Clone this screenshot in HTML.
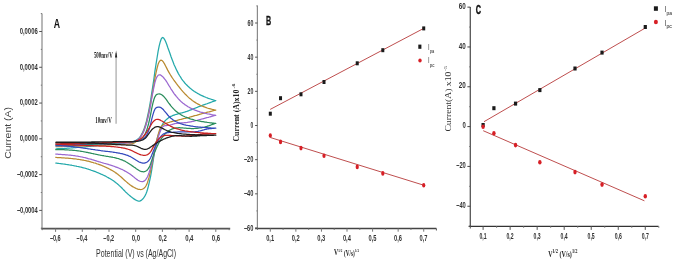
<!DOCTYPE html>
<html><head><meta charset="utf-8"><title>Figure</title>
<style>
html,body{margin:0;padding:0;background:#fff;}
body{width:685px;height:267px;overflow:hidden;font-family:"Liberation Sans",sans-serif;}
svg{display:block;} .t{filter:grayscale(1);}
</style></head><body>
<svg width="685" height="267" viewBox="0 0 685 267">
<rect width="685" height="267" fill="#fff"/>
<line x1="42.0" y1="13.5" x2="42.0" y2="228.6" stroke="#9a9a9a" stroke-width="1.4"/>
<line x1="41.2" y1="228.6" x2="230.2" y2="228.6" stroke="#555" stroke-width="1.6"/>
<line x1="39.2" y1="31.50" x2="42.0" y2="31.50" stroke="#555" stroke-width="1"/>
<line x1="39.2" y1="67.28" x2="42.0" y2="67.28" stroke="#555" stroke-width="1"/>
<line x1="39.2" y1="103.06" x2="42.0" y2="103.06" stroke="#555" stroke-width="1"/>
<line x1="39.2" y1="138.84" x2="42.0" y2="138.84" stroke="#555" stroke-width="1"/>
<line x1="39.2" y1="174.62" x2="42.0" y2="174.62" stroke="#555" stroke-width="1"/>
<line x1="39.2" y1="210.40" x2="42.0" y2="210.40" stroke="#555" stroke-width="1"/>
<line x1="40.8" y1="13.61" x2="42.0" y2="13.61" stroke="#777" stroke-width="1"/>
<line x1="40.8" y1="49.39" x2="42.0" y2="49.39" stroke="#777" stroke-width="1"/>
<line x1="40.8" y1="85.17" x2="42.0" y2="85.17" stroke="#777" stroke-width="1"/>
<line x1="40.8" y1="120.95" x2="42.0" y2="120.95" stroke="#777" stroke-width="1"/>
<line x1="40.8" y1="156.73" x2="42.0" y2="156.73" stroke="#777" stroke-width="1"/>
<line x1="40.8" y1="192.51" x2="42.0" y2="192.51" stroke="#777" stroke-width="1"/>
<line x1="40.8" y1="228.29" x2="42.0" y2="228.29" stroke="#777" stroke-width="1"/>
<line x1="55.60" y1="228.6" x2="55.60" y2="231.9" stroke="#777" stroke-width="1"/>
<line x1="82.30" y1="228.6" x2="82.30" y2="231.9" stroke="#777" stroke-width="1"/>
<line x1="109.00" y1="228.6" x2="109.00" y2="231.9" stroke="#777" stroke-width="1"/>
<line x1="135.70" y1="228.6" x2="135.70" y2="231.9" stroke="#777" stroke-width="1"/>
<line x1="162.40" y1="228.6" x2="162.40" y2="231.9" stroke="#777" stroke-width="1"/>
<line x1="189.10" y1="228.6" x2="189.10" y2="231.9" stroke="#777" stroke-width="1"/>
<line x1="215.80" y1="228.6" x2="215.80" y2="231.9" stroke="#777" stroke-width="1"/>
<line x1="42.25" y1="228.6" x2="42.25" y2="230.2" stroke="#777" stroke-width="1"/>
<line x1="68.95" y1="228.6" x2="68.95" y2="230.2" stroke="#777" stroke-width="1"/>
<line x1="95.65" y1="228.6" x2="95.65" y2="230.2" stroke="#777" stroke-width="1"/>
<line x1="122.35" y1="228.6" x2="122.35" y2="230.2" stroke="#777" stroke-width="1"/>
<line x1="149.05" y1="228.6" x2="149.05" y2="230.2" stroke="#777" stroke-width="1"/>
<line x1="175.75" y1="228.6" x2="175.75" y2="230.2" stroke="#777" stroke-width="1"/>
<line x1="202.45" y1="228.6" x2="202.45" y2="230.2" stroke="#777" stroke-width="1"/>
<line x1="229.15" y1="228.6" x2="229.15" y2="230.2" stroke="#777" stroke-width="1"/>
<line x1="116.1" y1="53" x2="116.1" y2="123.8" stroke="#b8b8b8" stroke-width="1.5"/>
<path d="M116.1 50.6 L117.2 57.4 L115.0 57.4 Z" fill="#222"/>
<g fill="none" stroke-width="1.25" stroke-linejoin="round"><path d="M55.6 148.8 L56.7 148.8 L57.7 148.7 L58.8 148.7 L59.9 148.6 L60.9 148.6 L62.0 148.5 L63.1 148.5 L64.1 148.4 L65.2 148.3 L66.3 148.3 L67.3 148.2 L68.4 148.1 L69.5 148.1 L70.6 148.0 L71.6 147.9 L72.7 147.8 L73.8 147.7 L74.8 147.7 L75.9 147.6 L77.0 147.5 L78.0 147.4 L79.1 147.3 L80.2 147.2 L81.2 147.2 L82.3 147.1 L83.4 147.0 L84.4 146.9 L85.5 146.8 L86.6 146.7 L87.6 146.6 L88.7 146.5 L89.8 146.4 L90.8 146.3 L91.9 146.2 L93.0 146.1 L94.0 146.0 L95.1 145.9 L96.2 145.8 L97.3 145.7 L98.3 145.6 L99.4 145.5 L100.5 145.4 L101.5 145.3 L102.6 145.2 L103.7 145.1 L104.7 145.0 L105.8 144.9 L106.9 144.7 L107.9 144.6 L109.0 144.5 L110.1 144.4 L111.1 144.3 L112.2 144.2 L113.3 144.1 L114.3 144.0 L115.4 143.8 L116.5 143.7 L117.5 143.6 L118.6 143.5 L119.7 143.4 L120.7 143.3 L121.8 143.1 L122.9 143.0 L124.0 142.9 L125.0 142.8 L126.1 142.7 L127.2 142.5 L128.2 142.4 L129.3 142.3 L130.4 142.2 L131.4 142.1 L132.5 141.9 L133.6 141.5 L134.6 141.1 L135.7 140.6 L136.8 139.9 L137.8 139.1 L138.9 138.1 L140.0 136.8 L141.0 135.3 L142.1 133.4 L143.2 131.1 L144.2 128.4 L145.3 125.1 L146.4 121.3 L147.4 116.8 L148.5 111.8 L149.6 106.1 L150.7 99.9 L151.7 93.2 L152.8 86.1 L153.9 78.8 L154.9 71.4 L156.0 64.3 L157.1 57.5 L158.1 51.3 L159.2 45.9 L160.3 41.7 L161.3 38.8 L162.4 37.5 L163.5 37.8 L164.5 39.3 L165.6 41.5 L166.7 44.2 L167.7 47.2 L168.8 50.2 L169.9 53.3 L170.9 56.3 L172.0 59.2 L173.1 62.0 L174.1 64.7 L175.2 67.1 L176.3 69.4 L177.4 71.6 L178.4 73.6 L179.5 75.5 L180.6 77.2 L181.6 78.8 L182.7 80.3 L183.8 81.7 L184.8 83.0 L185.9 84.2 L187.0 85.3 L188.0 86.3 L189.1 87.3 L190.2 88.3 L191.2 89.1 L192.3 89.9 L193.4 90.7 L194.4 91.5 L195.5 92.1 L196.6 92.8 L197.6 93.4 L198.7 94.0 L199.8 94.6 L200.8 95.1 L201.9 95.6 L203.0 96.1 L204.1 96.6 L205.1 97.0 L206.2 97.5 L207.3 97.9 L208.3 98.3 L209.4 98.7 L210.5 99.0 L211.5 99.4 L212.6 99.7 L213.7 100.0 L214.7 100.3 L215.8 100.6 L214.9 100.8 L214.1 101.1 L213.3 101.4 L212.5 101.7 L211.7 102.0 L210.9 102.3 L210.1 102.6 L209.3 102.9 L208.5 103.2 L207.6 103.5 L206.8 103.8 L206.0 104.0 L205.2 104.3 L204.4 104.6 L203.6 104.9 L202.8 105.2 L202.0 105.5 L201.2 105.8 L200.4 106.1 L199.6 106.4 L198.8 106.7 L198.0 107.0 L197.2 107.4 L196.4 107.7 L195.6 108.0 L194.8 108.3 L194.0 108.6 L193.2 108.9 L192.4 109.3 L191.6 109.6 L190.8 109.9 L190.0 110.2 L189.2 110.5 L188.4 110.8 L187.6 111.1 L186.8 111.4 L186.0 111.6 L185.2 111.9 L184.4 112.1 L183.6 112.4 L182.8 112.6 L182.0 112.8 L181.2 113.0 L180.4 113.2 L179.6 113.4 L178.8 113.6 L178.0 113.8 L177.2 114.1 L176.4 114.3 L175.6 114.5 L174.8 114.8 L174.0 115.1 L173.2 115.4 L172.4 115.7 L171.6 116.1 L170.8 116.4 L170.0 116.9 L169.2 117.4 L168.4 117.9 L167.6 118.5 L166.8 119.2 L166.0 119.9 L165.2 120.7 L164.3 121.6 L163.5 122.7 L162.7 124.0 L161.9 125.7 L161.1 127.8 L160.3 130.0 L159.5 132.0 L158.7 134.0 L157.9 136.3 L157.1 138.9 L156.3 142.2 L155.5 146.3 L154.7 150.9 L153.9 156.0 L153.1 161.3 L152.3 166.5 L151.5 171.4 L150.7 175.8 L149.9 179.6 L149.1 183.1 L148.3 186.5 L147.5 189.5 L146.7 192.0 L145.9 194.0 L145.1 195.6 L144.3 196.9 L143.5 198.1 L142.7 199.0 L141.9 199.8 L141.1 200.4 L140.3 200.9 L139.5 201.1 L138.7 201.2 L137.9 201.0 L137.1 200.7 L136.3 200.3 L135.5 199.9 L134.7 199.4 L133.9 198.9 L133.1 198.3 L132.3 197.7 L131.5 197.1 L130.7 196.5 L129.9 195.8 L129.1 195.1 L128.3 194.4 L127.5 193.7 L126.7 192.9 L125.9 192.2 L125.1 191.4 L124.3 190.5 L123.5 189.7 L122.7 188.9 L121.9 188.0 L121.1 187.2 L120.2 186.4 L119.4 185.7 L118.6 184.9 L117.8 184.2 L117.0 183.6 L116.2 182.9 L115.4 182.3 L114.6 181.7 L113.8 181.1 L113.0 180.5 L112.2 180.0 L111.4 179.5 L110.6 179.0 L109.8 178.5 L109.0 178.1 L108.2 177.6 L107.4 177.2 L106.6 176.7 L105.8 176.3 L105.0 175.9 L104.2 175.5 L103.4 175.2 L102.6 174.8 L101.8 174.4 L101.0 174.1 L100.2 173.7 L99.4 173.4 L98.6 173.0 L97.8 172.7 L97.0 172.4 L96.2 172.0 L95.4 171.7 L94.6 171.4 L93.8 171.1 L93.0 170.8 L92.2 170.5 L91.4 170.3 L90.6 170.0 L89.8 169.7 L89.0 169.5 L88.2 169.2 L87.4 169.0 L86.6 168.7 L85.8 168.5 L85.0 168.2 L84.2 168.0 L83.4 167.8 L82.6 167.6 L81.8 167.4 L81.0 167.2 L80.2 167.0 L79.4 166.8 L78.6 166.6 L77.8 166.5 L76.9 166.3 L76.1 166.1 L75.3 166.0 L74.5 165.8 L73.7 165.7 L72.9 165.5 L72.1 165.4 L71.3 165.2 L70.5 165.1 L69.7 165.0 L68.9 164.8 L68.1 164.7 L67.3 164.6 L66.5 164.5 L65.7 164.3 L64.9 164.2 L64.1 164.1 L63.3 164.0 L62.5 163.9 L61.7 163.8 L60.9 163.7 L60.1 163.6 L59.3 163.5 L58.5 163.4 L57.7 163.3 L56.9 163.2 L56.1 163.1 L55.3 163.0" stroke="#25a9ab"/>
<path d="M55.6 146.6 L56.7 146.6 L57.7 146.6 L58.8 146.6 L59.9 146.5 L60.9 146.5 L62.0 146.5 L63.1 146.5 L64.1 146.4 L65.2 146.4 L66.3 146.4 L67.3 146.4 L68.4 146.3 L69.5 146.3 L70.6 146.3 L71.6 146.2 L72.7 146.2 L73.8 146.2 L74.8 146.1 L75.9 146.1 L77.0 146.1 L78.0 146.0 L79.1 146.0 L80.2 146.0 L81.2 145.9 L82.3 145.9 L83.4 145.9 L84.4 145.8 L85.5 145.8 L86.6 145.7 L87.6 145.7 L88.7 145.7 L89.8 145.6 L90.8 145.6 L91.9 145.5 L93.0 145.5 L94.0 145.5 L95.1 145.4 L96.2 145.4 L97.3 145.3 L98.3 145.3 L99.4 145.3 L100.5 145.2 L101.5 145.2 L102.6 145.1 L103.7 145.1 L104.7 145.0 L105.8 145.0 L106.9 144.9 L107.9 144.9 L109.0 144.9 L110.1 144.8 L111.1 144.8 L112.2 144.7 L113.3 144.7 L114.3 144.6 L115.4 144.6 L116.5 144.5 L117.5 144.5 L118.6 144.4 L119.7 144.4 L120.7 144.3 L121.8 144.3 L122.9 144.2 L124.0 144.2 L125.0 144.1 L126.1 144.1 L127.2 144.0 L128.2 144.0 L129.3 143.9 L130.4 143.9 L131.4 143.8 L132.5 143.6 L133.6 143.1 L134.6 142.6 L135.7 141.9 L136.8 141.1 L137.8 140.2 L138.9 139.0 L140.0 137.7 L141.0 136.1 L142.1 134.3 L143.2 132.0 L144.2 129.4 L145.3 126.4 L146.4 122.8 L147.4 118.8 L148.5 114.1 L149.6 108.9 L150.7 103.3 L151.7 97.2 L152.8 90.8 L153.9 84.5 L154.9 78.3 L156.0 72.8 L157.1 68.0 L158.1 64.3 L159.2 61.8 L160.3 60.4 L161.3 60.2 L162.4 60.8 L163.5 62.2 L164.5 63.9 L165.6 66.0 L166.7 68.1 L167.7 70.1 L168.8 72.1 L169.9 74.0 L170.9 75.7 L172.0 77.4 L173.1 79.0 L174.1 80.5 L175.2 81.9 L176.3 83.4 L177.4 84.8 L178.4 86.2 L179.5 87.5 L180.6 88.8 L181.6 90.1 L182.7 91.4 L183.8 92.6 L184.8 93.7 L185.9 94.8 L187.0 95.9 L188.0 96.9 L189.1 97.9 L190.2 98.8 L191.2 99.6 L192.3 100.5 L193.4 101.2 L194.4 101.9 L195.5 102.6 L196.6 103.3 L197.6 103.9 L198.7 104.4 L199.8 105.0 L200.8 105.5 L201.9 106.0 L203.0 106.4 L204.1 106.8 L205.1 107.2 L206.2 107.6 L207.3 108.0 L208.3 108.3 L209.4 108.6 L210.5 108.9 L211.5 109.2 L212.6 109.5 L213.7 109.7 L214.7 110.0 L215.8 110.2 L214.9 110.3 L214.1 110.5 L213.3 110.7 L212.5 110.9 L211.7 111.2 L210.9 111.4 L210.1 111.6 L209.3 111.8 L208.5 112.0 L207.6 112.2 L206.8 112.4 L206.0 112.7 L205.2 112.9 L204.4 113.1 L203.6 113.3 L202.8 113.5 L202.0 113.7 L201.2 114.0 L200.4 114.2 L199.6 114.4 L198.8 114.6 L198.0 114.8 L197.2 115.1 L196.4 115.3 L195.6 115.5 L194.8 115.7 L194.0 115.9 L193.2 116.2 L192.4 116.4 L191.6 116.6 L190.8 116.8 L190.0 117.0 L189.2 117.3 L188.4 117.5 L187.6 117.7 L186.8 117.9 L186.0 118.1 L185.2 118.3 L184.4 118.5 L183.6 118.7 L182.8 118.9 L182.0 119.1 L181.2 119.3 L180.4 119.5 L179.6 119.7 L178.8 119.9 L178.0 120.1 L177.2 120.3 L176.4 120.5 L175.6 120.6 L174.8 120.8 L174.0 121.0 L173.2 121.2 L172.4 121.4 L171.6 121.6 L170.8 121.8 L170.0 122.0 L169.2 122.3 L168.4 122.5 L167.6 122.8 L166.8 123.1 L166.0 123.4 L165.2 123.8 L164.3 124.2 L163.5 124.6 L162.7 125.2 L161.9 125.8 L161.1 126.8 L160.3 128.2 L159.5 130.1 L158.7 132.6 L157.9 135.6 L157.1 138.9 L156.3 142.5 L155.5 146.4 L154.7 150.4 L153.9 154.5 L153.1 158.7 L152.3 162.8 L151.5 166.7 L150.7 170.5 L149.9 174.0 L149.1 177.2 L148.3 179.9 L147.5 182.4 L146.7 184.4 L145.9 186.0 L145.1 187.1 L144.3 188.0 L143.5 188.6 L142.7 189.0 L141.9 189.3 L141.1 189.5 L140.3 189.5 L139.5 189.4 L138.7 189.3 L137.9 189.1 L137.1 188.8 L136.3 188.5 L135.5 188.1 L134.7 187.7 L133.9 187.3 L133.1 186.9 L132.3 186.4 L131.5 185.9 L130.7 185.3 L129.9 184.8 L129.1 184.1 L128.3 183.5 L127.5 182.8 L126.7 182.1 L125.9 181.4 L125.1 180.7 L124.3 180.0 L123.5 179.2 L122.7 178.5 L121.9 177.7 L121.1 177.0 L120.2 176.3 L119.4 175.6 L118.6 175.0 L117.8 174.3 L117.0 173.7 L116.2 173.1 L115.4 172.6 L114.6 172.0 L113.8 171.5 L113.0 171.0 L112.2 170.5 L111.4 170.1 L110.6 169.6 L109.8 169.2 L109.0 168.8 L108.2 168.4 L107.4 168.0 L106.6 167.6 L105.8 167.2 L105.0 166.9 L104.2 166.5 L103.4 166.2 L102.6 165.8 L101.8 165.5 L101.0 165.2 L100.2 164.9 L99.4 164.6 L98.6 164.3 L97.8 164.0 L97.0 163.8 L96.2 163.5 L95.4 163.2 L94.6 163.0 L93.8 162.8 L93.0 162.5 L92.2 162.3 L91.4 162.1 L90.6 161.8 L89.8 161.6 L89.0 161.4 L88.2 161.2 L87.4 161.1 L86.6 160.9 L85.8 160.7 L85.0 160.5 L84.2 160.4 L83.4 160.2 L82.6 160.1 L81.8 159.9 L81.0 159.8 L80.2 159.6 L79.4 159.5 L78.6 159.4 L77.8 159.3 L76.9 159.2 L76.1 159.0 L75.3 158.9 L74.5 158.8 L73.7 158.8 L72.9 158.7 L72.1 158.6 L71.3 158.5 L70.5 158.4 L69.7 158.3 L68.9 158.3 L68.1 158.2 L67.3 158.1 L66.5 158.1 L65.7 158.0 L64.9 158.0 L64.1 157.9 L63.3 157.9 L62.5 157.8 L61.7 157.8 L60.9 157.7 L60.1 157.7 L59.3 157.6 L58.5 157.6 L57.7 157.5 L56.9 157.5 L56.1 157.4 L55.3 157.4" stroke="#b98a30"/>
<path d="M55.6 146.0 L56.7 146.0 L57.7 146.0 L58.8 145.9 L59.9 145.9 L60.9 145.9 L62.0 145.9 L63.1 145.8 L64.1 145.8 L65.2 145.8 L66.3 145.7 L67.3 145.7 L68.4 145.7 L69.5 145.6 L70.6 145.6 L71.6 145.6 L72.7 145.5 L73.8 145.5 L74.8 145.4 L75.9 145.4 L77.0 145.4 L78.0 145.3 L79.1 145.3 L80.2 145.2 L81.2 145.2 L82.3 145.1 L83.4 145.1 L84.4 145.1 L85.5 145.0 L86.6 145.0 L87.6 144.9 L88.7 144.9 L89.8 144.8 L90.8 144.8 L91.9 144.7 L93.0 144.7 L94.0 144.6 L95.1 144.6 L96.2 144.5 L97.3 144.5 L98.3 144.4 L99.4 144.4 L100.5 144.3 L101.5 144.3 L102.6 144.2 L103.7 144.2 L104.7 144.1 L105.8 144.1 L106.9 144.0 L107.9 144.0 L109.0 143.9 L110.1 143.9 L111.1 143.8 L112.2 143.7 L113.3 143.7 L114.3 143.6 L115.4 143.6 L116.5 143.5 L117.5 143.5 L118.6 143.4 L119.7 143.3 L120.7 143.3 L121.8 143.2 L122.9 143.2 L124.0 143.1 L125.0 143.1 L126.1 143.0 L127.2 142.9 L128.2 142.9 L129.3 142.8 L130.4 142.8 L131.4 142.7 L132.5 142.5 L133.6 142.2 L134.6 141.7 L135.7 141.2 L136.8 140.6 L137.8 139.8 L138.9 138.9 L140.0 137.7 L141.0 136.3 L142.1 134.6 L143.2 132.6 L144.2 130.2 L145.3 127.3 L146.4 123.8 L147.4 119.9 L148.5 115.3 L149.6 110.1 L150.7 104.4 L151.7 98.5 L152.8 92.6 L153.9 87.1 L154.9 82.5 L156.0 78.9 L157.1 76.6 L158.1 75.3 L159.2 74.8 L160.3 74.9 L161.3 75.5 L162.4 76.4 L163.5 77.5 L164.5 78.8 L165.6 80.2 L166.7 81.8 L167.7 83.5 L168.8 85.3 L169.9 87.0 L170.9 88.8 L172.0 90.4 L173.1 92.1 L174.1 93.6 L175.2 95.0 L176.3 96.4 L177.4 97.7 L178.4 98.9 L179.5 100.0 L180.6 101.1 L181.6 102.1 L182.7 103.0 L183.8 103.8 L184.8 104.6 L185.9 105.3 L187.0 106.0 L188.0 106.7 L189.1 107.3 L190.2 107.9 L191.2 108.4 L192.3 108.9 L193.4 109.4 L194.4 109.9 L195.5 110.3 L196.6 110.7 L197.6 111.1 L198.7 111.4 L199.8 111.8 L200.8 112.1 L201.9 112.4 L203.0 112.7 L204.1 113.0 L205.1 113.3 L206.2 113.5 L207.3 113.8 L208.3 114.0 L209.4 114.2 L210.5 114.4 L211.5 114.7 L212.6 114.8 L213.7 115.0 L214.7 115.2 L215.8 115.4 L214.9 115.5 L214.1 115.7 L213.3 115.9 L212.5 116.2 L211.7 116.4 L210.9 116.6 L210.1 116.8 L209.3 117.0 L208.5 117.3 L207.6 117.5 L206.8 117.7 L206.0 117.9 L205.2 118.1 L204.4 118.4 L203.6 118.6 L202.8 118.8 L202.0 119.0 L201.2 119.2 L200.4 119.5 L199.6 119.7 L198.8 119.9 L198.0 120.1 L197.2 120.3 L196.4 120.5 L195.6 120.7 L194.8 120.9 L194.0 121.1 L193.2 121.3 L192.4 121.4 L191.6 121.6 L190.8 121.8 L190.0 121.9 L189.2 122.1 L188.4 122.2 L187.6 122.3 L186.8 122.5 L186.0 122.6 L185.2 122.6 L184.4 122.7 L183.6 122.8 L182.8 122.8 L182.0 122.9 L181.2 122.9 L180.4 123.0 L179.6 123.0 L178.8 123.1 L178.0 123.2 L177.2 123.3 L176.4 123.4 L175.6 123.5 L174.8 123.7 L174.0 123.9 L173.2 124.1 L172.4 124.3 L171.6 124.6 L170.8 124.8 L170.0 125.0 L169.2 125.2 L168.4 125.3 L167.6 125.4 L166.8 125.5 L166.0 125.5 L165.2 125.6 L164.3 125.8 L163.5 126.2 L162.7 126.9 L161.9 127.9 L161.1 129.4 L160.3 131.2 L159.5 133.4 L158.7 135.9 L157.9 138.6 L157.1 141.6 L156.3 144.7 L155.5 147.9 L154.7 151.2 L153.9 154.5 L153.1 157.8 L152.3 161.1 L151.5 164.2 L150.7 167.2 L149.9 170.0 L149.1 172.5 L148.3 174.8 L147.5 176.7 L146.7 178.2 L145.9 179.4 L145.1 180.3 L144.3 180.9 L143.5 181.4 L142.7 181.6 L141.9 181.6 L141.1 181.5 L140.3 181.3 L139.5 181.0 L138.7 180.6 L137.9 180.2 L137.1 179.6 L136.3 179.1 L135.5 178.4 L134.7 177.8 L133.9 177.1 L133.1 176.5 L132.3 175.8 L131.5 175.2 L130.7 174.6 L129.9 174.0 L129.1 173.5 L128.3 173.0 L127.5 172.5 L126.7 172.0 L125.9 171.5 L125.1 171.1 L124.3 170.6 L123.5 170.2 L122.7 169.8 L121.9 169.4 L121.1 169.1 L120.2 168.7 L119.4 168.4 L118.6 168.0 L117.8 167.7 L117.0 167.4 L116.2 167.1 L115.4 166.8 L114.6 166.5 L113.8 166.2 L113.0 166.0 L112.2 165.7 L111.4 165.4 L110.6 165.2 L109.8 164.9 L109.0 164.7 L108.2 164.4 L107.4 164.2 L106.6 164.0 L105.8 163.7 L105.0 163.5 L104.2 163.3 L103.4 163.0 L102.6 162.8 L101.8 162.5 L101.0 162.3 L100.2 162.0 L99.4 161.8 L98.6 161.6 L97.8 161.3 L97.0 161.1 L96.2 160.8 L95.4 160.6 L94.6 160.4 L93.8 160.1 L93.0 159.9 L92.2 159.7 L91.4 159.4 L90.6 159.2 L89.8 159.0 L89.0 158.8 L88.2 158.6 L87.4 158.3 L86.6 158.1 L85.8 157.9 L85.0 157.7 L84.2 157.5 L83.4 157.4 L82.6 157.2 L81.8 157.0 L81.0 156.8 L80.2 156.7 L79.4 156.5 L78.6 156.4 L77.8 156.2 L76.9 156.1 L76.1 156.0 L75.3 155.8 L74.5 155.7 L73.7 155.6 L72.9 155.5 L72.1 155.4 L71.3 155.3 L70.5 155.2 L69.7 155.1 L68.9 155.1 L68.1 155.0 L67.3 154.9 L66.5 154.8 L65.7 154.8 L64.9 154.7 L64.1 154.6 L63.3 154.6 L62.5 154.5 L61.7 154.5 L60.9 154.4 L60.1 154.4 L59.3 154.3 L58.5 154.3 L57.7 154.2 L56.9 154.2 L56.1 154.1 L55.3 154.1" stroke="#9b68d0"/>
<path d="M55.6 145.6 L56.7 145.6 L57.7 145.6 L58.8 145.5 L59.9 145.5 L60.9 145.5 L62.0 145.5 L63.1 145.4 L64.1 145.4 L65.2 145.4 L66.3 145.3 L67.3 145.3 L68.4 145.3 L69.5 145.2 L70.6 145.2 L71.6 145.1 L72.7 145.1 L73.8 145.1 L74.8 145.0 L75.9 145.0 L77.0 144.9 L78.0 144.9 L79.1 144.8 L80.2 144.8 L81.2 144.8 L82.3 144.7 L83.4 144.7 L84.4 144.6 L85.5 144.6 L86.6 144.5 L87.6 144.5 L88.7 144.4 L89.8 144.4 L90.8 144.3 L91.9 144.3 L93.0 144.2 L94.0 144.2 L95.1 144.1 L96.2 144.1 L97.3 144.0 L98.3 144.0 L99.4 143.9 L100.5 143.8 L101.5 143.8 L102.6 143.7 L103.7 143.7 L104.7 143.6 L105.8 143.6 L106.9 143.5 L107.9 143.5 L109.0 143.4 L110.1 143.3 L111.1 143.3 L112.2 143.2 L113.3 143.2 L114.3 143.1 L115.4 143.0 L116.5 143.0 L117.5 142.9 L118.6 142.9 L119.7 142.8 L120.7 142.7 L121.8 142.7 L122.9 142.6 L124.0 142.6 L125.0 142.5 L126.1 142.4 L127.2 142.4 L128.2 142.3 L129.3 142.3 L130.4 142.2 L131.4 142.1 L132.5 142.0 L133.6 141.9 L134.6 141.7 L135.7 141.5 L136.8 141.2 L137.8 140.9 L138.9 140.4 L140.0 139.9 L141.0 139.2 L142.1 138.3 L143.2 137.1 L144.2 135.6 L145.3 133.6 L146.4 131.1 L147.4 127.9 L148.5 124.0 L149.6 119.3 L150.7 114.0 L151.7 108.6 L152.8 103.6 L153.9 99.5 L154.9 96.8 L156.0 95.1 L157.1 94.3 L158.1 94.0 L159.2 93.9 L160.3 94.1 L161.3 94.5 L162.4 95.2 L163.5 96.2 L164.5 97.4 L165.6 98.7 L166.7 100.1 L167.7 101.6 L168.8 103.1 L169.9 104.5 L170.9 105.8 L172.0 107.1 L173.1 108.3 L174.1 109.4 L175.2 110.5 L176.3 111.4 L177.4 112.3 L178.4 113.1 L179.5 113.8 L180.6 114.5 L181.6 115.1 L182.7 115.7 L183.8 116.2 L184.8 116.7 L185.9 117.2 L187.0 117.6 L188.0 118.0 L189.1 118.4 L190.2 118.8 L191.2 119.1 L192.3 119.4 L193.4 119.7 L194.4 120.0 L195.5 120.3 L196.6 120.5 L197.6 120.7 L198.7 121.0 L199.8 121.2 L200.8 121.4 L201.9 121.6 L203.0 121.7 L204.1 121.9 L205.1 122.1 L206.2 122.2 L207.3 122.4 L208.3 122.5 L209.4 122.7 L210.5 122.8 L211.5 122.9 L212.6 123.1 L213.7 123.2 L214.7 123.3 L215.8 123.4 L214.9 123.5 L214.1 123.8 L213.3 124.1 L212.5 124.4 L211.7 124.7 L210.9 125.0 L210.1 125.3 L209.3 125.6 L208.5 125.8 L207.6 126.1 L206.8 126.4 L206.0 126.6 L205.2 126.8 L204.4 127.1 L203.6 127.3 L202.8 127.4 L202.0 127.6 L201.2 127.8 L200.4 127.9 L199.6 128.0 L198.8 128.1 L198.0 128.2 L197.2 128.3 L196.4 128.3 L195.6 128.4 L194.8 128.4 L194.0 128.5 L193.2 128.5 L192.4 128.5 L191.6 128.5 L190.8 128.5 L190.0 128.4 L189.2 128.4 L188.4 128.4 L187.6 128.3 L186.8 128.3 L186.0 128.2 L185.2 128.1 L184.4 128.0 L183.6 128.0 L182.8 127.9 L182.0 127.9 L181.2 127.8 L180.4 127.8 L179.6 127.7 L178.8 127.7 L178.0 127.8 L177.2 127.8 L176.4 127.9 L175.6 128.0 L174.8 128.2 L174.0 128.4 L173.2 128.6 L172.4 128.9 L171.6 129.2 L170.8 129.6 L170.0 130.0 L169.2 130.5 L168.4 131.0 L167.6 131.7 L166.8 132.3 L166.0 133.1 L165.2 133.9 L164.3 134.8 L163.5 135.7 L162.7 136.8 L161.9 137.9 L161.1 139.1 L160.3 140.4 L159.5 141.8 L158.7 143.3 L157.9 144.9 L157.1 146.5 L156.3 148.3 L155.5 150.2 L154.7 152.1 L153.9 154.2 L153.1 156.4 L152.3 158.7 L151.5 161.1 L150.7 163.5 L149.9 165.7 L149.1 167.4 L148.3 168.7 L147.5 169.7 L146.7 170.5 L145.9 171.0 L145.1 171.4 L144.3 171.7 L143.5 171.8 L142.7 171.7 L141.9 171.6 L141.1 171.4 L140.3 171.1 L139.5 170.7 L138.7 170.2 L137.9 169.7 L137.1 169.2 L136.3 168.7 L135.5 168.1 L134.7 167.5 L133.9 167.0 L133.1 166.4 L132.3 165.9 L131.5 165.3 L130.7 164.7 L129.9 164.2 L129.1 163.7 L128.3 163.2 L127.5 162.7 L126.7 162.2 L125.9 161.8 L125.1 161.3 L124.3 160.9 L123.5 160.6 L122.7 160.2 L121.9 159.9 L121.1 159.6 L120.2 159.3 L119.4 159.0 L118.6 158.7 L117.8 158.5 L117.0 158.3 L116.2 158.1 L115.4 157.9 L114.6 157.7 L113.8 157.5 L113.0 157.4 L112.2 157.2 L111.4 157.1 L110.6 156.9 L109.8 156.8 L109.0 156.7 L108.2 156.5 L107.4 156.4 L106.6 156.3 L105.8 156.2 L105.0 156.0 L104.2 155.9 L103.4 155.7 L102.6 155.6 L101.8 155.5 L101.0 155.3 L100.2 155.2 L99.4 155.0 L98.6 154.8 L97.8 154.7 L97.0 154.5 L96.2 154.3 L95.4 154.2 L94.6 154.0 L93.8 153.8 L93.0 153.6 L92.2 153.5 L91.4 153.3 L90.6 153.1 L89.8 152.9 L89.0 152.8 L88.2 152.6 L87.4 152.4 L86.6 152.3 L85.8 152.1 L85.0 152.0 L84.2 151.8 L83.4 151.7 L82.6 151.5 L81.8 151.4 L81.0 151.3 L80.2 151.1 L79.4 151.0 L78.6 150.9 L77.8 150.8 L76.9 150.7 L76.1 150.6 L75.3 150.5 L74.5 150.4 L73.7 150.3 L72.9 150.3 L72.1 150.2 L71.3 150.1 L70.5 150.1 L69.7 150.0 L68.9 150.0 L68.1 149.9 L67.3 149.9 L66.5 149.8 L65.7 149.8 L64.9 149.8 L64.1 149.7 L63.3 149.7 L62.5 149.7 L61.7 149.7 L60.9 149.6 L60.1 149.6 L59.3 149.6 L58.5 149.6 L57.7 149.6 L56.9 149.5 L56.1 149.5 L55.3 149.5" stroke="#2a8d5c"/>
<path d="M55.6 144.8 L56.7 144.8 L57.7 144.8 L58.8 144.7 L59.9 144.7 L60.9 144.7 L62.0 144.7 L63.1 144.6 L64.1 144.6 L65.2 144.6 L66.3 144.5 L67.3 144.5 L68.4 144.5 L69.5 144.4 L70.6 144.4 L71.6 144.4 L72.7 144.3 L73.8 144.3 L74.8 144.3 L75.9 144.2 L77.0 144.2 L78.0 144.1 L79.1 144.1 L80.2 144.0 L81.2 144.0 L82.3 144.0 L83.4 143.9 L84.4 143.9 L85.5 143.8 L86.6 143.8 L87.6 143.7 L88.7 143.7 L89.8 143.6 L90.8 143.6 L91.9 143.5 L93.0 143.5 L94.0 143.5 L95.1 143.4 L96.2 143.4 L97.3 143.3 L98.3 143.3 L99.4 143.2 L100.5 143.2 L101.5 143.1 L102.6 143.0 L103.7 143.0 L104.7 142.9 L105.8 142.9 L106.9 142.8 L107.9 142.8 L109.0 142.7 L110.1 142.7 L111.1 142.6 L112.2 142.6 L113.3 142.5 L114.3 142.5 L115.4 142.4 L116.5 142.3 L117.5 142.3 L118.6 142.2 L119.7 142.2 L120.7 142.1 L121.8 142.1 L122.9 142.0 L124.0 141.9 L125.0 141.9 L126.1 141.8 L127.2 141.8 L128.2 141.7 L129.3 141.7 L130.4 141.6 L131.4 141.5 L132.5 141.5 L133.6 141.4 L134.6 141.3 L135.7 141.2 L136.8 141.1 L137.8 140.9 L138.9 140.7 L140.0 140.4 L141.0 140.0 L142.1 139.5 L143.2 138.9 L144.2 138.1 L145.3 136.9 L146.4 135.5 L147.4 133.5 L148.5 131.0 L149.6 127.7 L150.7 123.8 L151.7 119.4 L152.8 115.1 L153.9 111.6 L154.9 109.2 L156.0 107.9 L157.1 107.3 L158.1 107.1 L159.2 107.1 L160.3 107.3 L161.3 107.9 L162.4 108.7 L163.5 109.8 L164.5 111.1 L165.6 112.4 L166.7 113.7 L167.7 115.0 L168.8 116.2 L169.9 117.3 L170.9 118.3 L172.0 119.1 L173.1 119.9 L174.1 120.6 L175.2 121.2 L176.3 121.8 L177.4 122.3 L178.4 122.8 L179.5 123.2 L180.6 123.6 L181.6 123.9 L182.7 124.3 L183.8 124.6 L184.8 124.8 L185.9 125.1 L187.0 125.3 L188.0 125.5 L189.1 125.7 L190.2 125.9 L191.2 126.1 L192.3 126.2 L193.4 126.4 L194.4 126.5 L195.5 126.7 L196.6 126.8 L197.6 126.9 L198.7 127.0 L199.8 127.1 L200.8 127.2 L201.9 127.3 L203.0 127.4 L204.1 127.5 L205.1 127.6 L206.2 127.7 L207.3 127.7 L208.3 127.8 L209.4 127.9 L210.5 127.9 L211.5 128.0 L212.6 128.0 L213.7 128.1 L214.7 128.1 L215.8 128.2 L214.9 128.2 L214.1 128.3 L213.3 128.3 L212.5 128.4 L211.7 128.5 L210.9 128.5 L210.1 128.6 L209.3 128.7 L208.5 128.8 L207.6 129.0 L206.8 129.1 L206.0 129.3 L205.2 129.5 L204.4 129.7 L203.6 130.0 L202.8 130.2 L202.0 130.4 L201.2 130.6 L200.4 130.8 L199.6 131.0 L198.8 131.2 L198.0 131.4 L197.2 131.5 L196.4 131.6 L195.6 131.7 L194.8 131.8 L194.0 131.8 L193.2 131.9 L192.4 131.9 L191.6 131.9 L190.8 131.9 L190.0 131.9 L189.2 131.9 L188.4 131.9 L187.6 131.9 L186.8 131.9 L186.0 131.9 L185.2 131.9 L184.4 131.9 L183.6 131.9 L182.8 131.9 L182.0 131.9 L181.2 131.9 L180.4 131.9 L179.6 131.9 L178.8 131.9 L178.0 131.9 L177.2 132.0 L176.4 132.0 L175.6 132.0 L174.8 132.1 L174.0 132.1 L173.2 132.2 L172.4 132.3 L171.6 132.3 L170.8 132.4 L170.0 132.4 L169.2 132.5 L168.4 132.6 L167.6 132.7 L166.8 132.8 L166.0 132.9 L165.2 133.2 L164.3 133.5 L163.5 134.0 L162.7 134.6 L161.9 135.3 L161.1 136.2 L160.3 137.3 L159.5 138.5 L158.7 139.8 L157.9 141.2 L157.1 142.7 L156.3 144.4 L155.5 146.1 L154.7 147.9 L153.9 149.8 L153.1 151.8 L152.3 153.8 L151.5 155.8 L150.7 157.5 L149.9 159.0 L149.1 160.1 L148.3 161.0 L147.5 161.7 L146.7 162.3 L145.9 162.7 L145.1 162.9 L144.3 163.1 L143.5 163.1 L142.7 163.1 L141.9 162.9 L141.1 162.7 L140.3 162.4 L139.5 162.1 L138.7 161.7 L137.9 161.2 L137.1 160.7 L136.3 160.3 L135.5 159.7 L134.7 159.2 L133.9 158.7 L133.1 158.2 L132.3 157.7 L131.5 157.3 L130.7 156.8 L129.9 156.4 L129.1 156.1 L128.3 155.7 L127.5 155.4 L126.7 155.1 L125.9 154.9 L125.1 154.6 L124.3 154.4 L123.5 154.2 L122.7 153.9 L121.9 153.7 L121.1 153.6 L120.2 153.4 L119.4 153.2 L118.6 153.1 L117.8 152.9 L117.0 152.8 L116.2 152.6 L115.4 152.5 L114.6 152.4 L113.8 152.3 L113.0 152.1 L112.2 152.0 L111.4 151.9 L110.6 151.8 L109.8 151.7 L109.0 151.6 L108.2 151.5 L107.4 151.4 L106.6 151.3 L105.8 151.3 L105.0 151.2 L104.2 151.1 L103.4 151.0 L102.6 150.9 L101.8 150.8 L101.0 150.7 L100.2 150.5 L99.4 150.4 L98.6 150.3 L97.8 150.2 L97.0 150.1 L96.2 150.0 L95.4 149.9 L94.6 149.7 L93.8 149.6 L93.0 149.5 L92.2 149.4 L91.4 149.3 L90.6 149.1 L89.8 149.0 L89.0 148.9 L88.2 148.8 L87.4 148.7 L86.6 148.5 L85.8 148.4 L85.0 148.3 L84.2 148.2 L83.4 148.1 L82.6 147.9 L81.8 147.8 L81.0 147.7 L80.2 147.6 L79.4 147.5 L78.6 147.4 L77.8 147.3 L76.9 147.2 L76.1 147.1 L75.3 147.0 L74.5 146.9 L73.7 146.8 L72.9 146.7 L72.1 146.6 L71.3 146.5 L70.5 146.5 L69.7 146.4 L68.9 146.3 L68.1 146.2 L67.3 146.1 L66.5 146.0 L65.7 146.0 L64.9 145.9 L64.1 145.8 L63.3 145.7 L62.5 145.7 L61.7 145.6 L60.9 145.5 L60.1 145.4 L59.3 145.4 L58.5 145.3 L57.7 145.2 L56.9 145.1 L56.1 145.1 L55.3 145.0" stroke="#3449bd"/>
<path d="M55.6 143.8 L56.7 143.8 L57.7 143.8 L58.8 143.8 L59.9 143.8 L60.9 143.7 L62.0 143.7 L63.1 143.7 L64.1 143.7 L65.2 143.7 L66.3 143.6 L67.3 143.6 L68.4 143.6 L69.5 143.6 L70.6 143.6 L71.6 143.5 L72.7 143.5 L73.8 143.5 L74.8 143.5 L75.9 143.4 L77.0 143.4 L78.0 143.4 L79.1 143.4 L80.2 143.3 L81.2 143.3 L82.3 143.3 L83.4 143.3 L84.4 143.2 L85.5 143.2 L86.6 143.2 L87.6 143.2 L88.7 143.1 L89.8 143.1 L90.8 143.1 L91.9 143.0 L93.0 143.0 L94.0 143.0 L95.1 142.9 L96.2 142.9 L97.3 142.9 L98.3 142.9 L99.4 142.8 L100.5 142.8 L101.5 142.8 L102.6 142.7 L103.7 142.7 L104.7 142.7 L105.8 142.6 L106.9 142.6 L107.9 142.6 L109.0 142.5 L110.1 142.5 L111.1 142.5 L112.2 142.4 L113.3 142.4 L114.3 142.4 L115.4 142.3 L116.5 142.3 L117.5 142.3 L118.6 142.2 L119.7 142.2 L120.7 142.2 L121.8 142.1 L122.9 142.1 L124.0 142.1 L125.0 142.0 L126.1 142.0 L127.2 142.0 L128.2 141.9 L129.3 141.9 L130.4 141.8 L131.4 141.8 L132.5 141.7 L133.6 141.5 L134.6 141.3 L135.7 141.0 L136.8 140.7 L137.8 140.3 L138.9 139.8 L140.0 139.2 L141.0 138.5 L142.1 137.7 L143.2 136.7 L144.2 135.5 L145.3 134.2 L146.4 132.6 L147.4 131.0 L148.5 129.2 L149.6 127.3 L150.7 125.5 L151.7 123.7 L152.8 122.2 L153.9 121.0 L154.9 120.1 L156.0 119.5 L157.1 119.3 L158.1 119.4 L159.2 119.7 L160.3 120.1 L161.3 120.7 L162.4 121.3 L163.5 122.0 L164.5 122.7 L165.6 123.3 L166.7 124.0 L167.7 124.6 L168.8 125.3 L169.9 125.8 L170.9 126.4 L172.0 126.9 L173.1 127.4 L174.1 127.8 L175.2 128.2 L176.3 128.6 L177.4 128.9 L178.4 129.2 L179.5 129.5 L180.6 129.8 L181.6 130.1 L182.7 130.3 L183.8 130.5 L184.8 130.8 L185.9 131.0 L187.0 131.1 L188.0 131.3 L189.1 131.5 L190.2 131.6 L191.2 131.8 L192.3 131.9 L193.4 132.0 L194.4 132.2 L195.5 132.3 L196.6 132.4 L197.6 132.5 L198.7 132.6 L199.8 132.7 L200.8 132.8 L201.9 132.9 L203.0 132.9 L204.1 133.0 L205.1 133.1 L206.2 133.2 L207.3 133.2 L208.3 133.3 L209.4 133.4 L210.5 133.4 L211.5 133.5 L212.6 133.6 L213.7 133.6 L214.7 133.7 L215.8 133.7 L214.9 133.7 L214.1 133.8 L213.3 133.8 L212.5 133.8 L211.7 133.9 L210.9 133.9 L210.1 133.9 L209.3 134.0 L208.5 134.0 L207.6 134.0 L206.8 134.1 L206.0 134.1 L205.2 134.1 L204.4 134.1 L203.6 134.2 L202.8 134.2 L202.0 134.3 L201.2 134.4 L200.4 134.4 L199.6 134.5 L198.8 134.6 L198.0 134.7 L197.2 134.8 L196.4 135.0 L195.6 135.1 L194.8 135.2 L194.0 135.3 L193.2 135.4 L192.4 135.5 L191.6 135.6 L190.8 135.7 L190.0 135.7 L189.2 135.8 L188.4 135.9 L187.6 135.9 L186.8 135.9 L186.0 136.0 L185.2 136.0 L184.4 136.0 L183.6 136.0 L182.8 136.0 L182.0 136.0 L181.2 136.0 L180.4 135.9 L179.6 135.9 L178.8 135.9 L178.0 135.9 L177.2 135.8 L176.4 135.8 L175.6 135.7 L174.8 135.7 L174.0 135.6 L173.2 135.6 L172.4 135.5 L171.6 135.5 L170.8 135.4 L170.0 135.4 L169.2 135.3 L168.4 135.3 L167.6 135.3 L166.8 135.3 L166.0 135.3 L165.2 135.4 L164.3 135.6 L163.5 135.8 L162.7 136.1 L161.9 136.5 L161.1 137.0 L160.3 137.5 L159.5 138.2 L158.7 139.0 L157.9 139.8 L157.1 140.8 L156.3 141.9 L155.5 143.1 L154.7 144.4 L153.9 145.9 L153.1 147.4 L152.3 148.9 L151.5 150.4 L150.7 151.6 L149.9 152.6 L149.1 153.5 L148.3 154.1 L147.5 154.6 L146.7 155.0 L145.9 155.2 L145.1 155.3 L144.3 155.3 L143.5 155.3 L142.7 155.2 L141.9 155.0 L141.1 154.9 L140.3 154.6 L139.5 154.3 L138.7 154.0 L137.9 153.7 L137.1 153.3 L136.3 152.9 L135.5 152.5 L134.7 152.1 L133.9 151.7 L133.1 151.3 L132.3 150.9 L131.5 150.5 L130.7 150.1 L129.9 149.8 L129.1 149.5 L128.3 149.3 L127.5 149.0 L126.7 148.8 L125.9 148.6 L125.1 148.4 L124.3 148.2 L123.5 148.1 L122.7 147.9 L121.9 147.8 L121.1 147.6 L120.2 147.5 L119.4 147.4 L118.6 147.3 L117.8 147.2 L117.0 147.1 L116.2 147.0 L115.4 146.9 L114.6 146.8 L113.8 146.7 L113.0 146.7 L112.2 146.6 L111.4 146.5 L110.6 146.5 L109.8 146.4 L109.0 146.4 L108.2 146.3 L107.4 146.3 L106.6 146.3 L105.8 146.2 L105.0 146.2 L104.2 146.1 L103.4 146.1 L102.6 146.1 L101.8 146.1 L101.0 146.0 L100.2 146.0 L99.4 146.0 L98.6 146.0 L97.8 145.9 L97.0 145.9 L96.2 145.9 L95.4 145.8 L94.6 145.8 L93.8 145.8 L93.0 145.7 L92.2 145.7 L91.4 145.7 L90.6 145.7 L89.8 145.6 L89.0 145.6 L88.2 145.6 L87.4 145.5 L86.6 145.5 L85.8 145.5 L85.0 145.4 L84.2 145.4 L83.4 145.4 L82.6 145.3 L81.8 145.3 L81.0 145.3 L80.2 145.3 L79.4 145.2 L78.6 145.2 L77.8 145.2 L76.9 145.1 L76.1 145.1 L75.3 145.1 L74.5 145.0 L73.7 145.0 L72.9 145.0 L72.1 144.9 L71.3 144.9 L70.5 144.9 L69.7 144.8 L68.9 144.8 L68.1 144.8 L67.3 144.7 L66.5 144.7 L65.7 144.6 L64.9 144.6 L64.1 144.6 L63.3 144.5 L62.5 144.5 L61.7 144.5 L60.9 144.4 L60.1 144.4 L59.3 144.4 L58.5 144.3 L57.7 144.3 L56.9 144.3 L56.1 144.2 L55.3 144.2" stroke="#c92323"/>
<path d="M55.6 142.2 L56.7 142.2 L57.7 142.2 L58.8 142.2 L59.9 142.2 L60.9 142.2 L62.0 142.2 L63.1 142.2 L64.1 142.2 L65.2 142.2 L66.3 142.1 L67.3 142.1 L68.4 142.1 L69.5 142.1 L70.6 142.1 L71.6 142.1 L72.7 142.1 L73.8 142.1 L74.8 142.1 L75.9 142.1 L77.0 142.1 L78.0 142.1 L79.1 142.1 L80.2 142.0 L81.2 142.0 L82.3 142.0 L83.4 142.0 L84.4 142.0 L85.5 142.0 L86.6 142.0 L87.6 142.0 L88.7 142.0 L89.8 142.0 L90.8 142.0 L91.9 141.9 L93.0 141.9 L94.0 141.9 L95.1 141.9 L96.2 141.9 L97.3 141.9 L98.3 141.9 L99.4 141.9 L100.5 141.9 L101.5 141.9 L102.6 141.9 L103.7 141.8 L104.7 141.8 L105.8 141.8 L106.9 141.8 L107.9 141.8 L109.0 141.8 L110.1 141.8 L111.1 141.8 L112.2 141.8 L113.3 141.7 L114.3 141.7 L115.4 141.7 L116.5 141.7 L117.5 141.7 L118.6 141.7 L119.7 141.7 L120.7 141.7 L121.8 141.7 L122.9 141.6 L124.0 141.6 L125.0 141.6 L126.1 141.6 L127.2 141.6 L128.2 141.6 L129.3 141.6 L130.4 141.6 L131.4 141.5 L132.5 141.5 L133.6 141.5 L134.6 141.4 L135.7 141.3 L136.8 141.3 L137.8 141.2 L138.9 141.0 L140.0 140.8 L141.0 140.5 L142.1 140.2 L143.2 139.7 L144.2 139.0 L145.3 138.2 L146.4 137.1 L147.4 135.7 L148.5 134.2 L149.6 132.6 L150.7 131.1 L151.7 129.8 L152.8 128.7 L153.9 127.9 L154.9 127.2 L156.0 126.8 L157.1 126.6 L158.1 126.6 L159.2 126.9 L160.3 127.3 L161.3 127.8 L162.4 128.4 L163.5 128.9 L164.5 129.5 L165.6 130.0 L166.7 130.5 L167.7 130.9 L168.8 131.3 L169.9 131.7 L170.9 132.0 L172.0 132.3 L173.1 132.5 L174.1 132.7 L175.2 132.9 L176.3 133.1 L177.4 133.3 L178.4 133.5 L179.5 133.6 L180.6 133.7 L181.6 133.8 L182.7 134.0 L183.8 134.1 L184.8 134.1 L185.9 134.2 L187.0 134.3 L188.0 134.4 L189.1 134.4 L190.2 134.5 L191.2 134.6 L192.3 134.6 L193.4 134.7 L194.4 134.7 L195.5 134.8 L196.6 134.8 L197.6 134.8 L198.7 134.9 L199.8 134.9 L200.8 134.9 L201.9 135.0 L203.0 135.0 L204.1 135.0 L205.1 135.0 L206.2 135.1 L207.3 135.1 L208.3 135.1 L209.4 135.1 L210.5 135.1 L211.5 135.2 L212.6 135.2 L213.7 135.2 L214.7 135.2 L215.8 135.2 L214.9 135.2 L214.1 135.2 L213.3 135.3 L212.5 135.3 L211.7 135.3 L210.9 135.4 L210.1 135.4 L209.3 135.4 L208.5 135.4 L207.6 135.4 L206.8 135.5 L206.0 135.5 L205.2 135.5 L204.4 135.5 L203.6 135.6 L202.8 135.6 L202.0 135.6 L201.2 135.7 L200.4 135.7 L199.6 135.8 L198.8 135.9 L198.0 135.9 L197.2 136.0 L196.4 136.0 L195.6 136.1 L194.8 136.1 L194.0 136.2 L193.2 136.2 L192.4 136.2 L191.6 136.3 L190.8 136.3 L190.0 136.3 L189.2 136.2 L188.4 136.2 L187.6 136.2 L186.8 136.1 L186.0 136.0 L185.2 136.0 L184.4 135.9 L183.6 135.9 L182.8 135.8 L182.0 135.8 L181.2 135.7 L180.4 135.7 L179.6 135.6 L178.8 135.6 L178.0 135.6 L177.2 135.6 L176.4 135.7 L175.6 135.7 L174.8 135.8 L174.0 135.9 L173.2 136.1 L172.4 136.2 L171.6 136.4 L170.8 136.6 L170.0 136.8 L169.2 137.1 L168.4 137.3 L167.6 137.6 L166.8 137.9 L166.0 138.2 L165.2 138.6 L164.3 138.9 L163.5 139.3 L162.7 139.7 L161.9 140.1 L161.1 140.5 L160.3 140.9 L159.5 141.4 L158.7 141.8 L157.9 142.3 L157.1 142.8 L156.3 143.3 L155.5 143.8 L154.7 144.3 L153.9 144.9 L153.1 145.4 L152.3 145.9 L151.5 146.5 L150.7 147.0 L149.9 147.6 L149.1 148.1 L148.3 148.5 L147.5 148.9 L146.7 149.2 L145.9 149.3 L145.1 149.4 L144.3 149.3 L143.5 149.2 L142.7 148.9 L141.9 148.6 L141.1 148.3 L140.3 147.9 L139.5 147.5 L138.7 147.1 L137.9 146.7 L137.1 146.4 L136.3 146.0 L135.5 145.8 L134.7 145.6 L133.9 145.4 L133.1 145.3 L132.3 145.2 L131.5 145.1 L130.7 145.1 L129.9 145.0 L129.1 145.0 L128.3 145.0 L127.5 145.0 L126.7 145.0 L125.9 145.0 L125.1 144.9 L124.3 144.9 L123.5 144.9 L122.7 144.9 L121.9 144.8 L121.1 144.8 L120.2 144.7 L119.4 144.7 L118.6 144.7 L117.8 144.6 L117.0 144.6 L116.2 144.5 L115.4 144.5 L114.6 144.4 L113.8 144.4 L113.0 144.3 L112.2 144.3 L111.4 144.2 L110.6 144.2 L109.8 144.1 L109.0 144.1 L108.2 144.0 L107.4 144.0 L106.6 143.9 L105.8 143.9 L105.0 143.8 L104.2 143.8 L103.4 143.7 L102.6 143.7 L101.8 143.6 L101.0 143.6 L100.2 143.5 L99.4 143.5 L98.6 143.4 L97.8 143.4 L97.0 143.3 L96.2 143.3 L95.4 143.3 L94.6 143.2 L93.8 143.2 L93.0 143.2 L92.2 143.1 L91.4 143.1 L90.6 143.1 L89.8 143.0 L89.0 143.0 L88.2 143.0 L87.4 143.0 L86.6 142.9 L85.8 142.9 L85.0 142.9 L84.2 142.9 L83.4 142.8 L82.6 142.8 L81.8 142.8 L81.0 142.8 L80.2 142.8 L79.4 142.7 L78.6 142.7 L77.8 142.7 L76.9 142.7 L76.1 142.7 L75.3 142.7 L74.5 142.7 L73.7 142.6 L72.9 142.6 L72.1 142.6 L71.3 142.6 L70.5 142.6 L69.7 142.6 L68.9 142.6 L68.1 142.6 L67.3 142.6 L66.5 142.6 L65.7 142.6 L64.9 142.6 L64.1 142.6 L63.3 142.5 L62.5 142.5 L61.7 142.5 L60.9 142.5 L60.1 142.5 L59.3 142.5 L58.5 142.5 L57.7 142.5 L56.9 142.5 L56.1 142.5 L55.3 142.5" stroke="#1e1e1e"/></g>
<line x1="257.4" y1="5.6" x2="257.4" y2="228.5" stroke="#8a8a8a" stroke-width="1.2"/>
<line x1="255.1" y1="228.5" x2="436.4" y2="228.5" stroke="#444" stroke-width="1.4"/>
<line x1="255.1" y1="23.00" x2="257.4" y2="23.00" stroke="#555" stroke-width="1"/>
<line x1="255.1" y1="57.17" x2="257.4" y2="57.17" stroke="#555" stroke-width="1"/>
<line x1="255.1" y1="91.33" x2="257.4" y2="91.33" stroke="#555" stroke-width="1"/>
<line x1="255.1" y1="125.50" x2="257.4" y2="125.50" stroke="#555" stroke-width="1"/>
<line x1="255.1" y1="159.67" x2="257.4" y2="159.67" stroke="#555" stroke-width="1"/>
<line x1="255.1" y1="193.83" x2="257.4" y2="193.83" stroke="#555" stroke-width="1"/>
<line x1="255.1" y1="228.00" x2="257.4" y2="228.00" stroke="#555" stroke-width="1"/>
<line x1="256.4" y1="5.92" x2="257.4" y2="5.92" stroke="#777" stroke-width="1"/>
<line x1="256.4" y1="40.09" x2="257.4" y2="40.09" stroke="#777" stroke-width="1"/>
<line x1="256.4" y1="74.25" x2="257.4" y2="74.25" stroke="#777" stroke-width="1"/>
<line x1="256.4" y1="108.42" x2="257.4" y2="108.42" stroke="#777" stroke-width="1"/>
<line x1="256.4" y1="142.58" x2="257.4" y2="142.58" stroke="#777" stroke-width="1"/>
<line x1="256.4" y1="176.75" x2="257.4" y2="176.75" stroke="#777" stroke-width="1"/>
<line x1="256.4" y1="210.91" x2="257.4" y2="210.91" stroke="#777" stroke-width="1"/>
<line x1="270.30" y1="228.5" x2="270.30" y2="231.7" stroke="#777" stroke-width="1"/>
<line x1="295.87" y1="228.5" x2="295.87" y2="231.7" stroke="#777" stroke-width="1"/>
<line x1="321.44" y1="228.5" x2="321.44" y2="231.7" stroke="#777" stroke-width="1"/>
<line x1="347.01" y1="228.5" x2="347.01" y2="231.7" stroke="#777" stroke-width="1"/>
<line x1="372.58" y1="228.5" x2="372.58" y2="231.7" stroke="#777" stroke-width="1"/>
<line x1="398.15" y1="228.5" x2="398.15" y2="231.7" stroke="#777" stroke-width="1"/>
<line x1="423.72" y1="228.5" x2="423.72" y2="231.7" stroke="#777" stroke-width="1"/>
<line x1="257.51" y1="228.5" x2="257.51" y2="229.9" stroke="#777" stroke-width="1"/>
<line x1="283.09" y1="228.5" x2="283.09" y2="229.9" stroke="#777" stroke-width="1"/>
<line x1="308.66" y1="228.5" x2="308.66" y2="229.9" stroke="#777" stroke-width="1"/>
<line x1="334.23" y1="228.5" x2="334.23" y2="229.9" stroke="#777" stroke-width="1"/>
<line x1="359.80" y1="228.5" x2="359.80" y2="229.9" stroke="#777" stroke-width="1"/>
<line x1="385.37" y1="228.5" x2="385.37" y2="229.9" stroke="#777" stroke-width="1"/>
<line x1="410.94" y1="228.5" x2="410.94" y2="229.9" stroke="#777" stroke-width="1"/>
<line x1="436.4" y1="228.5" x2="436.4" y2="230.5" stroke="#555" stroke-width="1"/>
<line x1="270.2" y1="109.4" x2="423.7" y2="28.4" stroke="#bb4444" stroke-width="0.95"/>
<line x1="270.3" y1="137.5" x2="423.7" y2="185.2" stroke="#bb4444" stroke-width="0.95"/>
<rect x="268.80" y="111.70" width="3" height="4" fill="#1a1a1a"/>
<rect x="279.03" y="96.20" width="3" height="4" fill="#1a1a1a"/>
<rect x="299.48" y="92.30" width="3" height="4" fill="#1a1a1a"/>
<rect x="322.50" y="80.00" width="3" height="4" fill="#1a1a1a"/>
<rect x="355.74" y="61.30" width="3" height="4" fill="#1a1a1a"/>
<rect x="381.31" y="48.20" width="3" height="4" fill="#1a1a1a"/>
<rect x="422.22" y="26.40" width="3" height="4" fill="#1a1a1a"/>
<ellipse cx="270.30" cy="135.50" rx="1.6" ry="2.3" fill="#d71f26"/>
<ellipse cx="280.53" cy="141.90" rx="1.6" ry="2.3" fill="#d71f26"/>
<ellipse cx="300.98" cy="148.10" rx="1.6" ry="2.3" fill="#d71f26"/>
<ellipse cx="324.00" cy="155.80" rx="1.6" ry="2.3" fill="#d71f26"/>
<ellipse cx="357.24" cy="166.90" rx="1.6" ry="2.3" fill="#d71f26"/>
<ellipse cx="382.81" cy="173.40" rx="1.6" ry="2.3" fill="#d71f26"/>
<ellipse cx="423.72" cy="185.20" rx="1.6" ry="2.3" fill="#d71f26"/>
<rect x="418.3" y="44.6" width="3.1" height="4.2" fill="#1a1a1a"/>
<ellipse cx="420" cy="60.5" rx="1.7" ry="2.1" fill="#d71f26"/>
<line x1="470.3" y1="7.1" x2="470.3" y2="226.3" stroke="#555" stroke-width="1.3"/>
<line x1="468.6" y1="226.3" x2="658.6" y2="226.3" stroke="#333" stroke-width="1.3"/>
<line x1="470.3" y1="226.3" x2="470.3" y2="228.5" stroke="#555" stroke-width="1"/>
<line x1="467.4" y1="7.14" x2="470.3" y2="7.14" stroke="#444" stroke-width="1"/>
<line x1="467.4" y1="46.96" x2="470.3" y2="46.96" stroke="#444" stroke-width="1"/>
<line x1="467.4" y1="86.78" x2="470.3" y2="86.78" stroke="#444" stroke-width="1"/>
<line x1="467.4" y1="126.60" x2="470.3" y2="126.60" stroke="#444" stroke-width="1"/>
<line x1="467.4" y1="166.42" x2="470.3" y2="166.42" stroke="#444" stroke-width="1"/>
<line x1="467.4" y1="206.24" x2="470.3" y2="206.24" stroke="#444" stroke-width="1"/>
<line x1="469.3" y1="27.05" x2="470.3" y2="27.05" stroke="#666" stroke-width="1"/>
<line x1="469.3" y1="66.87" x2="470.3" y2="66.87" stroke="#666" stroke-width="1"/>
<line x1="469.3" y1="106.69" x2="470.3" y2="106.69" stroke="#666" stroke-width="1"/>
<line x1="469.3" y1="146.51" x2="470.3" y2="146.51" stroke="#666" stroke-width="1"/>
<line x1="469.3" y1="186.33" x2="470.3" y2="186.33" stroke="#666" stroke-width="1"/>
<line x1="469.3" y1="226.15" x2="470.3" y2="226.15" stroke="#666" stroke-width="1"/>
<line x1="483.10" y1="226.3" x2="483.10" y2="229.9" stroke="#555" stroke-width="1"/>
<line x1="510.13" y1="226.3" x2="510.13" y2="229.9" stroke="#555" stroke-width="1"/>
<line x1="537.16" y1="226.3" x2="537.16" y2="229.9" stroke="#555" stroke-width="1"/>
<line x1="564.19" y1="226.3" x2="564.19" y2="229.9" stroke="#555" stroke-width="1"/>
<line x1="591.22" y1="226.3" x2="591.22" y2="229.9" stroke="#555" stroke-width="1"/>
<line x1="618.25" y1="226.3" x2="618.25" y2="229.9" stroke="#555" stroke-width="1"/>
<line x1="645.28" y1="226.3" x2="645.28" y2="229.9" stroke="#555" stroke-width="1"/>
<line x1="496.62" y1="226.3" x2="496.62" y2="227.8" stroke="#777" stroke-width="1"/>
<line x1="523.64" y1="226.3" x2="523.64" y2="227.8" stroke="#777" stroke-width="1"/>
<line x1="550.67" y1="226.3" x2="550.67" y2="227.8" stroke="#777" stroke-width="1"/>
<line x1="577.71" y1="226.3" x2="577.71" y2="227.8" stroke="#777" stroke-width="1"/>
<line x1="604.74" y1="226.3" x2="604.74" y2="227.8" stroke="#777" stroke-width="1"/>
<line x1="631.77" y1="226.3" x2="631.77" y2="227.8" stroke="#777" stroke-width="1"/>
<line x1="658.80" y1="226.3" x2="658.80" y2="227.8" stroke="#777" stroke-width="1"/>
<line x1="484" y1="121.7" x2="644.8" y2="28.3" stroke="#bb4444" stroke-width="0.95"/>
<line x1="483.2" y1="130.7" x2="644.4" y2="200.8" stroke="#bb4444" stroke-width="0.95"/>
<rect x="481.50" y="123.00" width="3.2" height="4" fill="#1a1a1a"/>
<rect x="492.31" y="106.20" width="3.2" height="4" fill="#1a1a1a"/>
<rect x="513.94" y="101.60" width="3.2" height="4" fill="#1a1a1a"/>
<rect x="538.26" y="88.10" width="3.2" height="4" fill="#1a1a1a"/>
<rect x="573.40" y="66.50" width="3.2" height="4" fill="#1a1a1a"/>
<rect x="600.43" y="50.60" width="3.2" height="4" fill="#1a1a1a"/>
<rect x="643.68" y="25.00" width="3.2" height="4" fill="#1a1a1a"/>
<ellipse cx="483.10" cy="126.80" rx="1.7" ry="2.3" fill="#d71f26"/>
<ellipse cx="493.91" cy="133.20" rx="1.7" ry="2.3" fill="#d71f26"/>
<ellipse cx="515.54" cy="145.10" rx="1.7" ry="2.3" fill="#d71f26"/>
<ellipse cx="539.86" cy="162.30" rx="1.7" ry="2.3" fill="#d71f26"/>
<ellipse cx="575.00" cy="172.10" rx="1.7" ry="2.3" fill="#d71f26"/>
<ellipse cx="602.03" cy="184.60" rx="1.7" ry="2.3" fill="#d71f26"/>
<ellipse cx="645.28" cy="196.20" rx="1.7" ry="2.3" fill="#d71f26"/>
<rect x="653.9" y="6.3" width="4" height="4.5" fill="#1a1a1a"/>
<ellipse cx="655.9" cy="22" rx="2" ry="2.3" fill="#d71f26"/>
<g class="t"><text x="19.70" y="33.80" font-family="Liberation Sans" font-size="9.2" font-weight="bold" fill="#333" textLength="18.00" lengthAdjust="spacingAndGlyphs">0,0006</text>
<text x="19.70" y="69.58" font-family="Liberation Sans" font-size="9.2" font-weight="bold" fill="#333" textLength="18.00" lengthAdjust="spacingAndGlyphs">0,0004</text>
<text x="19.70" y="105.36" font-family="Liberation Sans" font-size="9.2" font-weight="bold" fill="#333" textLength="18.00" lengthAdjust="spacingAndGlyphs">0,0002</text>
<text x="19.70" y="141.14" font-family="Liberation Sans" font-size="9.2" font-weight="bold" fill="#333" textLength="18.00" lengthAdjust="spacingAndGlyphs">0,0000</text>
<text x="16.90" y="176.92" font-family="Liberation Sans" font-size="9.2" font-weight="bold" fill="#333" textLength="20.80" lengthAdjust="spacingAndGlyphs">&#8211;0,0002</text>
<text x="16.90" y="212.70" font-family="Liberation Sans" font-size="9.2" font-weight="bold" fill="#333" textLength="20.80" lengthAdjust="spacingAndGlyphs">&#8211;0,0004</text>
<text x="49.90" y="241.30" font-family="Liberation Sans" font-size="9.4" font-weight="bold" fill="#333" textLength="10.80" lengthAdjust="spacingAndGlyphs">&#8211;0,6</text>
<text x="76.60" y="241.30" font-family="Liberation Sans" font-size="9.4" font-weight="bold" fill="#333" textLength="10.80" lengthAdjust="spacingAndGlyphs">&#8211;0,4</text>
<text x="103.30" y="241.30" font-family="Liberation Sans" font-size="9.4" font-weight="bold" fill="#333" textLength="10.80" lengthAdjust="spacingAndGlyphs">&#8211;0,2</text>
<text x="131.75" y="241.30" font-family="Liberation Sans" font-size="9.4" font-weight="bold" fill="#333" textLength="8.30" lengthAdjust="spacingAndGlyphs">0,0</text>
<text x="158.45" y="241.30" font-family="Liberation Sans" font-size="9.4" font-weight="bold" fill="#333" textLength="8.30" lengthAdjust="spacingAndGlyphs">0,2</text>
<text x="185.15" y="241.30" font-family="Liberation Sans" font-size="9.4" font-weight="bold" fill="#333" textLength="8.30" lengthAdjust="spacingAndGlyphs">0,4</text>
<text x="211.85" y="241.30" font-family="Liberation Sans" font-size="9.4" font-weight="bold" fill="#333" textLength="8.30" lengthAdjust="spacingAndGlyphs">0,6</text>
<text x="96.10" y="257.40" font-family="Liberation Sans" font-size="10.1" font-weight="normal" fill="#333" textLength="79.90" lengthAdjust="spacingAndGlyphs">Potential (V) vs (Ag/AgCl)</text>
<text x="10.60" y="158.80" font-family="Liberation Sans" font-size="8.6" font-weight="normal" fill="#444" textLength="51.80" lengthAdjust="spacingAndGlyphs" transform="rotate(-90 10.60 158.80)">Current (A)</text>
<text x="53.80" y="27.80" font-family="Liberation Sans" font-size="12.8" font-weight="bold" fill="#111" textLength="6.30" lengthAdjust="spacingAndGlyphs">A</text>
<text x="93.90" y="58.00" font-family="Liberation Serif" font-size="8.2" font-weight="bold" fill="#222" textLength="18.90" lengthAdjust="spacingAndGlyphs">500mv/V</text>
<text x="95.30" y="123.30" font-family="Liberation Serif" font-size="8.2" font-weight="bold" fill="#222" textLength="16.40" lengthAdjust="spacingAndGlyphs">10mv/V</text>
<text x="247.50" y="25.60" font-family="Liberation Sans" font-size="9.4" font-weight="bold" fill="#333" textLength="5.80" lengthAdjust="spacingAndGlyphs">60</text>
<text x="247.50" y="59.77" font-family="Liberation Sans" font-size="9.4" font-weight="bold" fill="#333" textLength="5.80" lengthAdjust="spacingAndGlyphs">40</text>
<text x="247.50" y="93.93" font-family="Liberation Sans" font-size="9.4" font-weight="bold" fill="#333" textLength="5.80" lengthAdjust="spacingAndGlyphs">20</text>
<text x="250.60" y="128.10" font-family="Liberation Sans" font-size="9.4" font-weight="bold" fill="#333" textLength="2.70" lengthAdjust="spacingAndGlyphs">0</text>
<text x="243.90" y="162.27" font-family="Liberation Sans" font-size="9.4" font-weight="bold" fill="#333" textLength="9.40" lengthAdjust="spacingAndGlyphs">&#8211;20</text>
<text x="243.90" y="196.43" font-family="Liberation Sans" font-size="9.4" font-weight="bold" fill="#333" textLength="9.40" lengthAdjust="spacingAndGlyphs">&#8211;40</text>
<text x="243.90" y="230.60" font-family="Liberation Sans" font-size="9.4" font-weight="bold" fill="#333" textLength="9.40" lengthAdjust="spacingAndGlyphs">&#8211;60</text>
<text x="266.20" y="241.10" font-family="Liberation Sans" font-size="9.8" font-weight="bold" fill="#333" textLength="7.90" lengthAdjust="spacingAndGlyphs">0,1</text>
<text x="291.77" y="241.10" font-family="Liberation Sans" font-size="9.8" font-weight="bold" fill="#333" textLength="7.90" lengthAdjust="spacingAndGlyphs">0,2</text>
<text x="317.34" y="241.10" font-family="Liberation Sans" font-size="9.8" font-weight="bold" fill="#333" textLength="7.90" lengthAdjust="spacingAndGlyphs">0,3</text>
<text x="342.91" y="241.10" font-family="Liberation Sans" font-size="9.8" font-weight="bold" fill="#333" textLength="7.90" lengthAdjust="spacingAndGlyphs">0,4</text>
<text x="368.48" y="241.10" font-family="Liberation Sans" font-size="9.8" font-weight="bold" fill="#333" textLength="7.90" lengthAdjust="spacingAndGlyphs">0,5</text>
<text x="394.05" y="241.10" font-family="Liberation Sans" font-size="9.8" font-weight="bold" fill="#333" textLength="7.90" lengthAdjust="spacingAndGlyphs">0,6</text>
<text x="419.62" y="241.10" font-family="Liberation Sans" font-size="9.8" font-weight="bold" fill="#333" textLength="7.90" lengthAdjust="spacingAndGlyphs">0,7</text>
<text x="266.00" y="24.50" font-family="Liberation Sans" font-size="12.3" font-weight="bold" fill="#111" textLength="5.20" lengthAdjust="spacingAndGlyphs" stroke="#111" stroke-width="0.3">B</text>
<text x="428.10" y="50.10" font-family="Liberation Sans" font-size="8.4" font-weight="normal" fill="#555" textLength="1.60" lengthAdjust="spacingAndGlyphs">I</text>
<text x="429.80" y="53.00" font-family="Liberation Sans" font-size="5.2" font-weight="normal" fill="#222" textLength="4.40" lengthAdjust="spacingAndGlyphs">pa</text>
<text x="428.10" y="63.20" font-family="Liberation Sans" font-size="8.4" font-weight="normal" fill="#555" textLength="1.60" lengthAdjust="spacingAndGlyphs">I</text>
<text x="429.80" y="67.00" font-family="Liberation Sans" font-size="5.2" font-weight="normal" fill="#222" textLength="4.60" lengthAdjust="spacingAndGlyphs">pc</text>
<text x="239.20" y="141.60" font-family="Liberation Serif" font-size="7.2" font-weight="bold" fill="#222" textLength="52.00" lengthAdjust="spacingAndGlyphs" transform="rotate(-90 239.20 141.60)">Current (A)x10</text>
<text x="235.00" y="88.50" font-family="Liberation Serif" font-size="5.0" font-weight="bold" fill="#222" textLength="4.80" lengthAdjust="spacingAndGlyphs" transform="rotate(-90 235.00 88.50)">-6</text>
<text x="334.10" y="255.40" font-family="Liberation Serif" font-size="7.5" font-weight="bold" fill="#222" textLength="4.10" lengthAdjust="spacingAndGlyphs">V</text>
<text x="338.30" y="251.80" font-family="Liberation Serif" font-size="4.8" font-weight="bold" fill="#222" textLength="4.00" lengthAdjust="spacingAndGlyphs">1/2</text>
<text x="344.00" y="256.00" font-family="Liberation Serif" font-size="7.5" font-weight="bold" fill="#222" textLength="10.70" lengthAdjust="spacingAndGlyphs">(V/s)</text>
<text x="355.00" y="251.80" font-family="Liberation Serif" font-size="4.8" font-weight="bold" fill="#222" textLength="4.00" lengthAdjust="spacingAndGlyphs">1/2</text>
<text x="458.80" y="8.74" font-family="Liberation Sans" font-size="9.4" font-weight="bold" fill="#333" textLength="7.00" lengthAdjust="spacingAndGlyphs">60</text>
<text x="458.80" y="48.56" font-family="Liberation Sans" font-size="9.4" font-weight="bold" fill="#333" textLength="7.00" lengthAdjust="spacingAndGlyphs">40</text>
<text x="458.80" y="88.38" font-family="Liberation Sans" font-size="9.4" font-weight="bold" fill="#333" textLength="7.00" lengthAdjust="spacingAndGlyphs">20</text>
<text x="462.50" y="128.20" font-family="Liberation Sans" font-size="9.4" font-weight="bold" fill="#333" textLength="3.30" lengthAdjust="spacingAndGlyphs">0</text>
<text x="456.20" y="168.02" font-family="Liberation Sans" font-size="9.4" font-weight="bold" fill="#333" textLength="9.60" lengthAdjust="spacingAndGlyphs">&#8211;20</text>
<text x="456.20" y="207.84" font-family="Liberation Sans" font-size="9.4" font-weight="bold" fill="#333" textLength="9.60" lengthAdjust="spacingAndGlyphs">&#8211;40</text>
<text x="479.50" y="239.20" font-family="Liberation Sans" font-size="9.6" font-weight="bold" fill="#333" textLength="7.10" lengthAdjust="spacingAndGlyphs">0,1</text>
<text x="506.53" y="239.20" font-family="Liberation Sans" font-size="9.6" font-weight="bold" fill="#333" textLength="7.10" lengthAdjust="spacingAndGlyphs">0,2</text>
<text x="533.56" y="239.20" font-family="Liberation Sans" font-size="9.6" font-weight="bold" fill="#333" textLength="7.10" lengthAdjust="spacingAndGlyphs">0,3</text>
<text x="560.59" y="239.20" font-family="Liberation Sans" font-size="9.6" font-weight="bold" fill="#333" textLength="7.10" lengthAdjust="spacingAndGlyphs">0,4</text>
<text x="587.62" y="239.20" font-family="Liberation Sans" font-size="9.6" font-weight="bold" fill="#333" textLength="7.10" lengthAdjust="spacingAndGlyphs">0,5</text>
<text x="614.65" y="239.20" font-family="Liberation Sans" font-size="9.6" font-weight="bold" fill="#333" textLength="7.10" lengthAdjust="spacingAndGlyphs">0,6</text>
<text x="641.68" y="239.20" font-family="Liberation Sans" font-size="9.6" font-weight="bold" fill="#333" textLength="7.10" lengthAdjust="spacingAndGlyphs">0,7</text>
<text x="475.80" y="13.50" font-family="Liberation Sans" font-size="12.0" font-weight="bold" fill="#111" textLength="5.30" lengthAdjust="spacingAndGlyphs" stroke="#111" stroke-width="0.45">C</text>
<text x="664.80" y="11.80" font-family="Liberation Sans" font-size="9.6" font-weight="normal" fill="#111" textLength="1.50" lengthAdjust="spacingAndGlyphs">I</text>
<text x="666.50" y="15.20" font-family="Liberation Sans" font-size="6.0" font-weight="normal" fill="#111" textLength="5.40" lengthAdjust="spacingAndGlyphs">pa</text>
<text x="664.80" y="25.60" font-family="Liberation Sans" font-size="9.6" font-weight="normal" fill="#111" textLength="1.50" lengthAdjust="spacingAndGlyphs">I</text>
<text x="666.50" y="28.40" font-family="Liberation Sans" font-size="6.0" font-weight="normal" fill="#111" textLength="5.40" lengthAdjust="spacingAndGlyphs">pc</text>
<text x="450.60" y="131.60" font-family="Liberation Serif" font-size="7.8" font-weight="normal" fill="#333" textLength="60.00" lengthAdjust="spacingAndGlyphs" transform="rotate(-90 450.60 131.60)">Current(A) x10</text>
<text x="447.00" y="71.00" font-family="Liberation Serif" font-size="5.0" font-weight="normal" fill="#333" textLength="5.00" lengthAdjust="spacingAndGlyphs" transform="rotate(-90 447.00 71.00)">-5</text>
<text x="548.20" y="256.90" font-family="Liberation Serif" font-size="8.2" font-weight="bold" fill="#222" textLength="4.20" lengthAdjust="spacingAndGlyphs">V</text>
<text x="552.30" y="252.80" font-family="Liberation Serif" font-size="5.2" font-weight="bold" fill="#222" textLength="5.70" lengthAdjust="spacingAndGlyphs">1/2</text>
<text x="559.40" y="257.20" font-family="Liberation Serif" font-size="8.2" font-weight="bold" fill="#222" textLength="12.40" lengthAdjust="spacingAndGlyphs">(V/s)</text>
<text x="571.90" y="252.80" font-family="Liberation Serif" font-size="5.2" font-weight="bold" fill="#222" textLength="5.60" lengthAdjust="spacingAndGlyphs">1/2</text></g>
</svg>
</body></html>
